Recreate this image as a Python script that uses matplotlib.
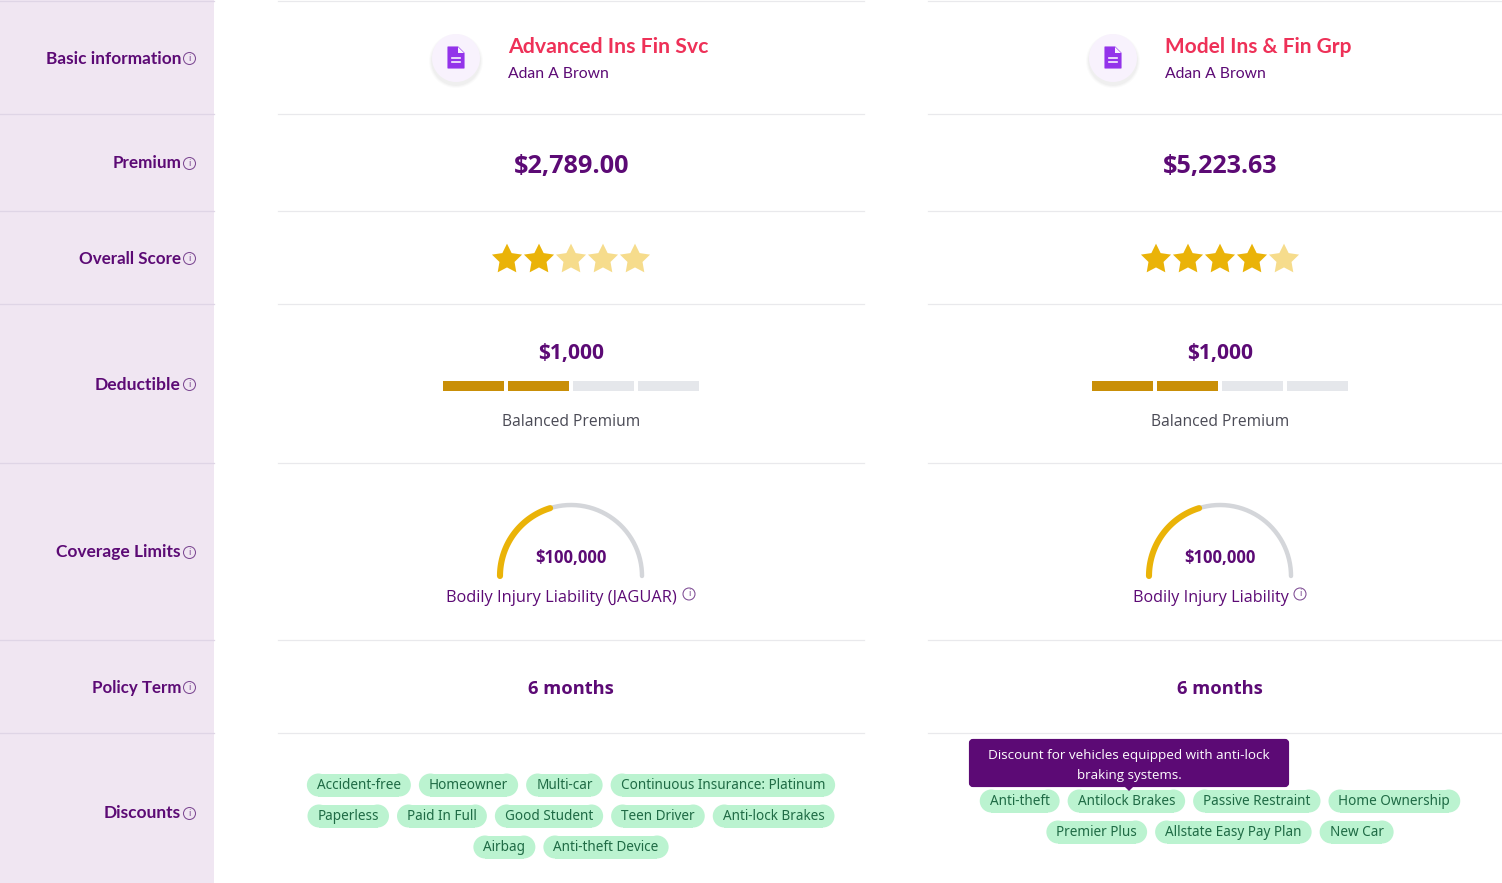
import numpy as np
import matplotlib
matplotlib.use("Agg")
import matplotlib.pyplot as plt
from matplotlib.patches import FancyBboxPatch, Circle, Rectangle, Polygon

# ---- data ----
row_labels = ["Basic information", "Premium", "Overall Score", "Deductible",
              "Coverage Limits", "Policy Term", "Discounts"]
plan_names = ["Advanced Ins Fin Svc", "Model Ins & Fin Grp"]
agents = ["Adan A Brown", "Adan A Brown"]
premiums = ["$2,789.00", "$5,223.63"]
scores = [2, 4]
max_score = 5
deductibles = ["$1,000", "$1,000"]
deductible_levels = [2, 2]
deductible_steps = 4
deductible_note = "Balanced Premium"
limits = ["$100,000", "$100,000"]
limit_fraction = [0.405, 0.405]
limit_names = ["Bodily Injury Liability (JAGUAR)", "Bodily Injury Liability"]
terms = ["6 months", "6 months"]
discounts_a = [["Accident-free", "Homeowner", "Multi-car", "Continuous Insurance: Platinum"],
               ["Paperless", "Paid In Full", "Good Student", "Teen Driver", "Anti-lock Brakes"],
               ["Airbag", "Anti-theft Device"]]
discounts_b = [["Anti-theft", "Antilock Brakes", "Passive Restraint", "Home Ownership"],
               ["Premier Plus", "Allstate Easy Pay Plan", "New Car"]]
tooltip = "Discount for vehicles equipped with anti-lock\nbraking systems."

# ---- style ----
PURPLE = "#5c0a75"
RED = "#ee3158"
GOLD = "#eab308"
BODY = "Noto Sans"
BOLD = "Open Sans"
HEAD = "Lato"
row_edges = [1, 114, 211, 304, 463, 640, 733]
label_y = [58, 163, 258, 384, 552, 687, 813]
label_width = [135, 69, 102, 85, 124, 89, 77]
col_centers = [571, 1220]
col_spans = [(278, 864), (928, 1502)]

fig = plt.figure(figsize=(15.02, 8.83), dpi=100)
ax = fig.add_axes([0, 0, 1, 1])
ax.set_xlim(0, 1502)
ax.set_ylim(883, 0)
ax.axis("off")
renderer = fig.canvas.get_renderer()


def txt(x, y, s, px, width=None, **kw):
    kw.setdefault("va", "center")
    kw.setdefault("ha", "center")
    kw.setdefault("color", PURPLE)
    kw.setdefault("family", BODY)
    t = ax.text(x, y, s, fontsize=px * 0.72, **kw)
    if width:
        w = t.get_window_extent(renderer).width
        t.set_fontsize(px * 0.72 * width / w)
    return t


def info(x, y):
    ax.add_patch(Circle((x, y), 6, fc="none", ec="#7d4a93", lw=0.75, zorder=4))
    txt(x, y, "i", 9.5, color="#7d4a93", zorder=5)


def pills(rows, cx, y0, gap=8, pad=10, h=23, step=31):
    for r, row in enumerate(rows):
        y = y0 + r * step
        sizes = []
        items = []
        for s in row:
            t = txt(0, y + 0.5, s, 13.55, color="#1f6b45", zorder=5)
            items.append(t)
            sizes.append(t.get_window_extent(renderer).width + 2 * pad)
        x = cx - (sum(sizes) + gap * (len(row) - 1)) / 2
        for t, w in zip(items, sizes):
            ax.add_patch(Rectangle((x + h / 2, y - h / 2), w - h, h, fc="#bbf3d0", ec="none", zorder=4))
            ax.add_patch(Circle((x + h / 2, y), h / 2, fc="#bbf3d0", ec="none", zorder=4))
            ax.add_patch(Circle((x + w - h / 2, y), h / 2, fc="#bbf3d0", ec="none", zorder=4))
            t.set_x(x + w / 2)
            x += w + gap


# left panel
ax.add_patch(Rectangle((0, 0), 214, 883, fc="#f0e6f2", ec="none", zorder=1))
for y in row_edges:
    ax.plot([0, 214], [y, y], color="#dfd5e6", lw=0.9, zorder=2)
    for a, b in col_spans:
        ax.plot([a, b], [y, y], color="#e9e9ec", lw=0.9, zorder=2)
for s, y, w in zip(row_labels, label_y, label_width):
    txt(181, y + 0.5, s, 16, width=w, ha="right", family=HEAD, fontweight="bold")
    info(189.5, y + 0.5)

for i, cx in enumerate(col_centers):
    # header
    icx = [456, 1113][i]
    for r, a in zip([27, 26, 25], [0.03, 0.04, 0.05]):
        ax.add_patch(Circle((icx, 61), r, fc="#808080", alpha=a, ec="none", zorder=2))
    ax.add_patch(Circle((icx, 58), 24, fc="#f8f2fd", ec="none", zorder=3))
    ax.add_patch(Polygon([(icx - 8, 47), (icx + 2, 47), (icx + 8, 53), (icx + 8, 68), (icx - 8, 68)],
                         fc="#9333ea", ec="#9333ea", lw=0.8, joinstyle="round", zorder=4))
    ax.add_patch(Polygon([(icx + 2, 47), (icx + 2, 53), (icx + 8, 53)], fc="#f8f2fd", ec="none", zorder=5))
    for yy in (58, 62):
        ax.plot([icx - 4, icx + 4], [yy, yy], color="#f8f2fd", lw=1.2, zorder=5)
    tx = [508, 1165][i]
    txt(tx, 47, plan_names[i], 21, ha="left", color=RED, family=HEAD, fontweight="bold",
        width=[201, 186][i])
    txt(tx, 74, agents[i], 16, ha="left", family=HEAD, width=101)

    # premium
    txt(cx + 0.5, 166.5, premiums[i], 25, family=BOLD, fontweight="bold", width=115)

    # stars
    xs = cx + (np.arange(max_score) - 2) * 32
    cols = [GOLD if k < scores[i] else "#f6dc8c" for k in range(max_score)]
    ax.scatter(xs, [259.5] * max_score, marker=(5, 1), s=520, c=cols, linewidths=0, zorder=4)

    # deductible
    txt(cx, 353, deductibles[i], 21, family=BOLD, fontweight="bold", width=66)
    for k in range(deductible_steps):
        x0 = cx - 128 + k * 65
        ax.add_patch(Rectangle((x0, 381), 61, 10, ec="none", zorder=4,
                               fc="#c98f08" if k < deductible_levels[i] else "#e5e7eb"))
    txt(cx, 421.5, deductible_note, 16, color="#4a4a55", width=138, fontweight="medium", family=BOLD)

    # gauge
    r = 71
    cy = 576
    th = np.linspace(np.pi, 0, 200)
    ax.plot(cx + r * np.cos(th), cy - r * np.sin(th), color="#d4d6da", lw=3.2,
            solid_capstyle="round", zorder=3)
    th2 = np.linspace(np.pi, np.pi * (1 - limit_fraction[i]), 100)
    ax.plot(cx + r * np.cos(th2), cy - r * np.sin(th2), color=GOLD, lw=4.4,
            solid_capstyle="round", zorder=4)
    txt(cx, 558, limits[i], 16, family=BOLD, fontweight="bold", width=72)
    w = [231, 155][i]
    x0 = [446, 1133][i]
    txt(x0, 597.5, limit_names[i], 16, ha="left", width=w, family=BOLD, fontweight="medium")
    info(x0 + w + 12, 594)

    # term
    txt(cx, 688.5, terms[i], 20, fontweight="bold", width=86, family=BOLD)

pills(discounts_a, col_centers[0], 785)
pills(discounts_b, col_centers[1], 801)

# tooltip
ax.add_patch(FancyBboxPatch((971, 741), 316, 44, boxstyle="round,pad=0,rounding_size=2",
                            fc=PURPLE, ec=PURPLE, lw=3, zorder=6))
ax.add_patch(Polygon([(1124, 786), (1134, 786), (1129, 791)], fc=PURPLE, ec="none", zorder=6))
lines = tooltip.split("\n")
txt(1129, 755, lines[0], 14, color="white", zorder=7, width=282, family=BOLD)
txt(1129, 775, lines[1], 14, color="white", zorder=7, width=105, family=BOLD)

fig.savefig("out.png", dpi=100, facecolor="white")
